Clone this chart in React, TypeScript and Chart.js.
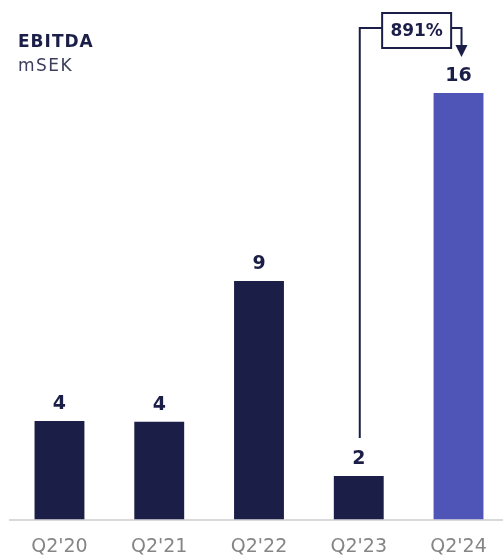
import React, { useEffect, useRef } from "react";
import { Chart, registerables } from "chart.js";

Chart.register(...registerables);

const categories = ["Q2'20", "Q2'21", "Q2'22", "Q2'23", "Q2'24"];
const ebitda = [3.67, 3.64, 8.89, 1.62, 15.9];
const valueLabels = ["4", "4", "9", "2", "16"];
const growthLabel = "891%";
const title = "EBITDA";
const unit = "mSEK";

const NAVY = "#1b1f47";
const PURPLE = "#4f54b7";
const barColors = [NAVY, NAVY, NAVY, NAVY, PURPLE];

export default function App() {
  const ref = useRef<HTMLCanvasElement>(null);

  useEffect(() => {
    if (!ref.current) return;
    const annot = {
      id: "annot",
      afterDatasetsDraw(chart: any) {
        const ctx = chart.ctx as CanvasRenderingContext2D;
        const meta = chart.getDatasetMeta(0);
        ctx.save();
        ctx.fillStyle = NAVY;
        ctx.font = "bold 19px 'DejaVu Sans'";
        ctx.textAlign = "center";
        ctx.textBaseline = "alphabetic";
        meta.data.forEach((bar: any, i: number) => {
          ctx.fillText(valueLabels[i], bar.x, bar.y - 12);
        });
        const from = meta.data[3];
        const to = meta.data[4];
        const x1 = from.x + 1;
        const x2 = to.x + 3;
        const yTop = 28;
        ctx.strokeStyle = NAVY;
        ctx.lineWidth = 2;
        ctx.beginPath();
        ctx.moveTo(x1, from.y - 38);
        ctx.lineTo(x1, yTop);
        ctx.lineTo(x2, yTop);
        ctx.lineTo(x2, to.y - 47);
        ctx.stroke();
        ctx.beginPath();
        ctx.moveTo(x2 - 6, to.y - 48);
        ctx.lineTo(x2 + 6, to.y - 48);
        ctx.lineTo(x2, to.y - 36);
        ctx.closePath();
        ctx.fill();
        const bw = 69;
        const bh = 35;
        const bx = (x1 + x2) / 2 + 6 - bw / 2;
        const by = 13;
        ctx.fillStyle = "#ffffff";
        ctx.fillRect(bx, by, bw, bh);
        ctx.strokeRect(bx, by, bw, bh);
        ctx.fillStyle = NAVY;
        ctx.font = "bold 17px 'DejaVu Sans'";
        ctx.textBaseline = "middle";
        ctx.fillText(growthLabel, bx + bw / 2, by + bh / 2 + 1);
        ctx.restore();
      },
    };

    const chart = new Chart(ref.current, {
      type: "bar",
      data: {
        labels: categories,
        datasets: [
          {
            data: ebitda,
            backgroundColor: barColors,
            borderWidth: 0,
            categoryPercentage: 1,
            barPercentage: 0.5,
          },
        ],
      },
      options: {
        animation: false,
        responsive: true,
        maintainAspectRatio: false,
        layout: { padding: { top: 36.7, left: 9.6, right: 1.6, bottom: 0 } },
        plugins: {
          legend: { display: false },
          tooltip: { enabled: false },
          title: { display: false },
        },
        scales: {
          x: {
            grid: { display: false, drawTicks: false },
            border: { display: true, color: "#d9d9d9", width: 2 },
            ticks: {
              color: "#858585",
              font: { family: "'DejaVu Sans'", size: 19 },
              padding: 16,
            },
            afterFit(scale: any) {
              scale.height = 37.5;
            },
          },
          y: { display: false, min: 0, max: 18 },
        },
      },
      plugins: [annot],
    });
    return () => chart.destroy();
  }, []);

  return (
    <div
      style={{
        position: "absolute",
        left: 0,
        top: 0,
        width: 503,
        height: 557,
        overflow: "hidden",
        background: "#fff",
      }}
    >
      <div style={{ position: "absolute", left: 0, top: 0, width: 510, height: 557 }}>
        <canvas ref={ref} />
      </div>
      <div
        style={{
          position: "absolute",
          left: 18,
          top: 32.6,
          fontFamily: "'DejaVu Sans'",
          fontWeight: "bold",
          fontSize: 17,
          lineHeight: "17px",
          letterSpacing: 1,
          color: NAVY,
        }}
      >
        {title}
      </div>
      <div
        style={{
          position: "absolute",
          left: 18,
          top: 56.6,
          fontFamily: "'DejaVu Sans'",
          fontSize: 17,
          lineHeight: "17px",
          letterSpacing: 1.5,
          color: "#3b3e5c",
        }}
      >
        {unit}
      </div>
    </div>
  );
}
